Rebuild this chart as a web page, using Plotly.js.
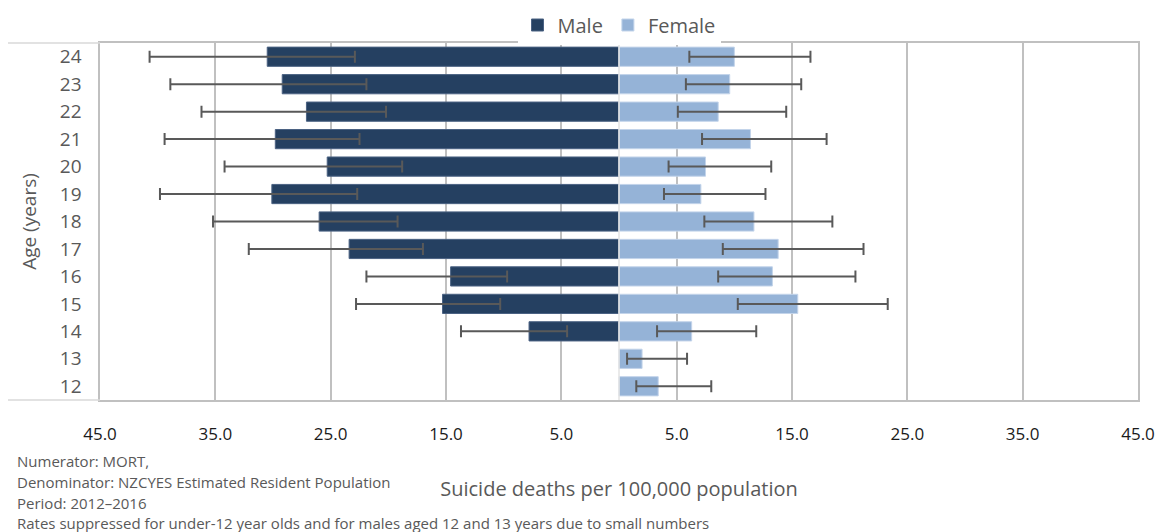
<!DOCTYPE html>
<html>
<head>
<meta charset="utf-8">
<script src="https://cdn.plot.ly/plotly-3.0.1.min.js"></script>
<style>html,body{margin:0;padding:0;background:#fff;}#chart{width:1160px;height:532px;}</style>
</head>
<body>
<div id="chart"></div>
<script>
// Age groups (bottom to top)
var ages = ["12","13","14","15","16","17","18","19","20","21","22","23","24"];

// Male rates per 100,000 (suppressed for 12 and 13)
var maleRate = [null, null, 7.8, 15.3, 14.6, 23.4, 26.0, 30.1, 25.3, 29.8, 27.1, 29.2, 30.5];
var maleLow  = [null, null, 4.5, 10.3, 9.7, 17.0, 19.2, 22.7, 18.8, 22.5, 20.2, 21.9, 22.9];
var maleHigh = [null, null, 13.7, 22.8, 21.9, 32.1, 35.2, 39.8, 34.2, 39.4, 36.2, 38.9, 40.7];

// Female rates per 100,000
var femaleRate = [3.4, 2.0, 6.3, 15.5, 13.3, 13.8, 11.7, 7.1, 7.5, 11.4, 8.6, 9.6, 10.0];
var femaleLow  = [1.5, 0.7, 3.3, 10.3, 8.6, 9.0, 7.4, 3.9, 4.3, 7.2, 5.1, 5.8, 6.1];
var femaleHigh = [8.0, 5.9, 11.9, 23.3, 20.5, 21.2, 18.5, 12.7, 13.2, 18.0, 14.5, 15.8, 16.6];

// X tick values and labels
var tickVals   = [-45, -35, -25, -15, -5, 5, 15, 25, 35, 45];
var tickLabels = ["45.0","35.0","25.0","15.0","5.0","5.0","15.0","25.0","35.0","45.0"];

var footnotes = [
  "Numerator: MORT,",
  "Denominator: NZCYES Estimated Resident Population",
  "Period: 2012\u20132016",
  "Rates suppressed for under-12 year olds and for males aged 12 and 13 years due to small numbers"
];

var FONT = "Open Sans, Noto Sans, sans-serif";
var GRAY = "#595959";

var maleX = maleRate.map(function(v){ return v === null ? null : -v; });
var maleErrPlus = maleRate.map(function(v,i){ return v === null ? null : v - maleLow[i]; });
var maleErrMinus = maleRate.map(function(v,i){ return v === null ? null : maleHigh[i] - v; });
var femErrPlus = femaleRate.map(function(v,i){ return femaleHigh[i] - v; });
var femErrMinus = femaleRate.map(function(v,i){ return v - femaleLow[i]; });

var errStyle = {color: "#595959", thickness: 2, width: 6};

var traces = [
  {
    type: "bar", orientation: "h", name: "Male",
    y: ages, x: maleX,
    marker: {color: "#254061", line: {color: "#4b6283", width: 1}},
    error_x: Object.assign({type: "data", symmetric: false, array: maleErrPlus, arrayminus: maleErrMinus}, errStyle),
    hoverinfo: "skip"
  },
  {
    type: "bar", orientation: "h", name: "Female",
    y: ages, x: femaleRate,
    marker: {color: "#95b3d7", line: {color: "#c3d4ea", width: 1}},
    error_x: Object.assign({type: "data", symmetric: false, array: femErrPlus, arrayminus: femErrMinus}, errStyle),
    hoverinfo: "skip"
  }
];

var L = 100, R = 22, T = 43, B = 132;
var W = 1160 - L - R, H = 532 - T - B;
function px(x){ return (x - L) / W; }
function py(y){ return (532 - B - y) / H; }

var annotations = footnotes.map(function(t, i){
  return {
    text: t, xref: "paper", yref: "paper",
    x: px(15), y: py([461, 482, 503, 523][i]),
    xanchor: "left", yanchor: "middle", showarrow: false,
    font: {family: FONT, size: 15, color: GRAY}
  };
});

var layout = {
  width: 1160, height: 532,
  margin: {l: L, r: R, t: T, b: B, pad: 0, autoexpand: false},
  paper_bgcolor: "#ffffff", plot_bgcolor: "#ffffff",
  barmode: "overlay", bargap: 0.3,
  font: {family: FONT, color: GRAY},
  showlegend: true,
  legend: {
    orientation: "h", x: 0.5, xanchor: "center", y: py(25), yanchor: "middle",
    font: {family: FONT, size: 20, color: GRAY}, itemwidth: 30, traceorder: "normal"
  },
  xaxis: {
    range: [-45, 45], tickmode: "array", tickvals: tickVals, ticktext: tickLabels,
    showgrid: true, gridcolor: "#c0c0c0", gridwidth: 1.7,
    zeroline: false,
    showline: true, mirror: true, linecolor: "#c0c0c0", linewidth: 1.7,
    ticks: "outside", ticklen: 18, tickcolor: "rgba(0,0,0,0)",
    tickfont: {family: FONT, size: 17, color: "#1a1a1a"},
    title: {text: "Suicide deaths per 100,000 population", font: {family: FONT, size: 20, color: GRAY}, standoff: 38},
    fixedrange: true
  },
  yaxis: {
    type: "category", categoryorder: "array", categoryarray: ages,
    showgrid: false, zeroline: false,
    showline: true, mirror: true, linecolor: "#c0c0c0", linewidth: 1.7,
    ticks: "outside", ticklen: 13, tickcolor: "rgba(0,0,0,0)",
    tickfont: {family: FONT, size: 19, color: GRAY},
    title: {text: "Age (years)", font: {family: FONT, size: 19, color: GRAY}, standoff: 18},
    fixedrange: true
  },
  shapes: [
    {type: "line", xref: "x", yref: "paper", x0: 0, x1: 0, y0: 0, y1: 1, line: {color: "#e3e3e3", width: 1.5}, layer: "above"},
    {type: "line", xref: "paper", yref: "paper", x0: px(8), x1: 0, y0: 1, y1: 1, line: {color: "#d9d9d9", width: 1.5}},
    {type: "line", xref: "paper", yref: "paper", x0: px(8), x1: 0, y0: 0, y1: 0, line: {color: "#d9d9d9", width: 1.5}}
  ],
  annotations: annotations
};

Plotly.newPlot("chart", traces, layout, {displayModeBar: false, staticPlot: true});
</script>
</body>
</html>
